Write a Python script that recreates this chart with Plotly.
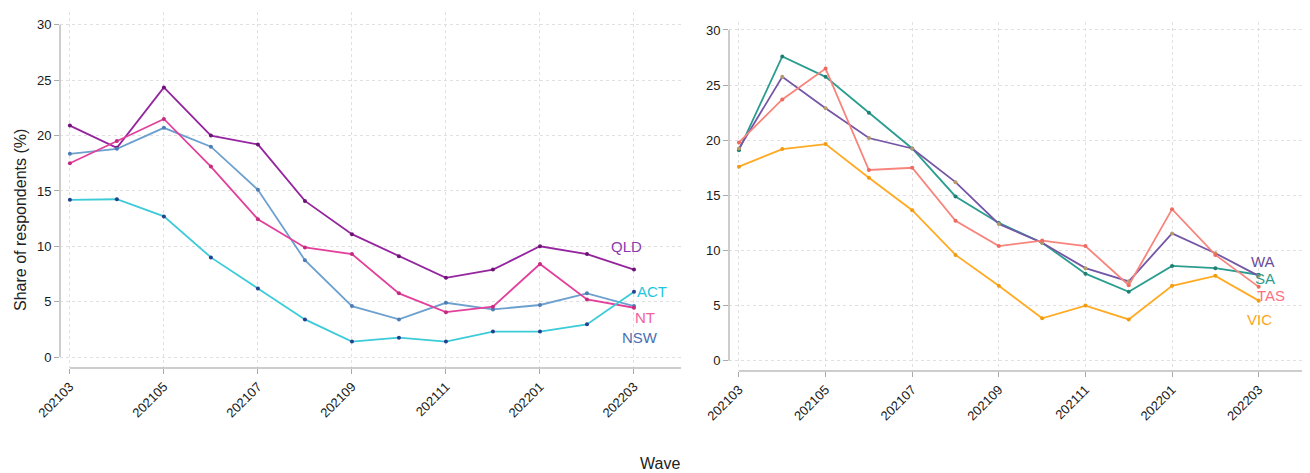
import plotly.graph_objects as go

waves = ["202103", "202104", "202105", "202106", "202107", "202108", "202109",
         "202110", "202111", "202112", "202201", "202202", "202203"]
tick_waves = waves[::2]
y_ticks = [0, 5, 10, 15, 20, 25, 30]

# Left panel
qld = [20.9, 18.9, 24.35, 20.0, 19.2, 14.1, 11.1, 9.1, 7.15, 7.9, 10.0, 9.3, 7.9]
nsw = [18.35, 18.8, 20.7, 19.0, 15.1, 8.75, 4.6, 3.4, 4.9, 4.3, 4.7, 5.75, 4.6]
nt = [17.5, 19.5, 21.5, 17.2, 12.45, 9.9, 9.3, 5.75, 4.05, 4.55, 8.4, 5.2, 4.45]
act = [14.2, 14.25, 12.7, 9.0, 6.2, 3.4, 1.4, 1.75, 1.4, 2.3, 2.3, 2.95, 5.9]

# Right panel
sa = [19.1, 27.6, 25.75, 22.5, 19.25, 14.9, 12.5, 10.7, 7.9, 6.25, 8.6, 8.4, 7.8]
wa = [19.25, 25.75, 22.9, 20.2, 19.25, 16.2, 12.4, 10.7, 8.4, 7.2, 11.55, 9.75, 7.7]
tas = [19.8, 23.7, 26.5, 17.3, 17.5, 12.7, 10.4, 10.9, 10.4, 6.85, 13.75, 9.6, 6.7]
vic = [17.6, 19.2, 19.65, 16.6, 13.65, 9.6, 6.8, 3.85, 5.0, 3.75, 6.8, 7.7, 5.45]

FONT = "Liberation Sans, Arial, sans-serif"

# page body has an 8px margin; figure fills the rest of the 1310x473 window
OX, OY = 8, 8
W, H = 1310 - OX, 473 - OY


def fx(px):
    return (px - OX) / W


def fy(py):
    return (H - (py - OY)) / H


# name, values, line color, marker color, label color, label dx, label dy
left_series = [
    ("QLD", qld, "#94259E", "#6E1279", "#8A3AAE", -0.15, 2.1),
    ("NSW", nsw, "#6CA0CF", "#4D7DB5", "#4A6FB0", 0.13, -2.8),
    ("NT", nt, "#E2409A", "#C42A80", "#F0609F", 0.23, -0.85),
    ("ACT", act, "#3CCBD8", "#233F8E", "#1FC6DC", 0.38, 0.05),
]
right_series = [
    ("SA", sa, "#2A9D8F", "#1F7F73", "#2A9D8F", 0.14, -0.3),
    ("WA", wa, "#7556A6", "#B59A6A", "#6B4C9A", 0.1, 1.3),
    ("TAS", tas, "#F8857D", "#F06A60", "#FF6F7F", 0.29, -0.75),
    ("VIC", vic, "#FFAA22", "#F29A10", "#FFA41A", 0.02, -1.7),
]

fig = go.Figure()
annotations = []
for (series, xa, ya) in [(left_series, "x", "y"), (right_series, "x2", "y2")]:
    for name, vals, lc, mc, tc, dx, dy in series:
        fig.add_trace(go.Scatter(
            x=waves, y=vals, mode="lines+markers", name=name,
            line=dict(color=lc, width=1.8),
            marker=dict(color=mc, size=4),
            xaxis=xa, yaxis=ya, showlegend=False,
        ))
        annotations.append(dict(
            x=len(waves) - 1 + dx, y=vals[-1] + dy, xref=xa, yref=ya,
            text=name, showarrow=False, font=dict(family=FONT, size=15, color=tc),
            xanchor="center", yanchor="middle",
        ))

annotations.append(dict(
    x=fx(20), y=fy(220), xref="paper", yref="paper", text="Share of respondents (%)",
    textangle=-90, showarrow=False, font=dict(family=FONT, size=16, color="#222"),
    xanchor="center", yanchor="middle"))
annotations.append(dict(
    x=fx(660), y=fy(463), xref="paper", yref="paper", text="Wave",
    showarrow=False, font=dict(family=FONT, size=16, color="#222"),
    xanchor="center", yanchor="middle"))

axis_common = dict(
    showgrid=True, gridcolor="#E0E0E0", griddash="dot", gridwidth=1,
    zeroline=False, showline=False, automargin=False,
    ticks="outside", ticklen=5, tickcolor="#AAAAAA", tickwidth=1,
    tickfont=dict(family=FONT, size=13, color="#1A1A1A"),
)

fig.update_layout(
    width=W, height=H, autosize=False,
    margin=dict(l=0, r=0, t=0, b=0),
    paper_bgcolor="white", plot_bgcolor="white",
    annotations=annotations,
    xaxis=dict(domain=[fx(60), fx(681)], type="category",
               tickvals=tick_waves, ticktext=tick_waves, tickangle=-45,
               range=[-0.21, len(waves)], anchor="y", **axis_common),
    yaxis=dict(domain=[fy(368), fy(12)],
               tickvals=y_ticks, range=[-0.99, 31.16], anchor="x", **axis_common),
    xaxis2=dict(domain=[fx(729), min(1.0, fx(1302))], type="category",
                tickvals=tick_waves, ticktext=tick_waves, tickangle=-45,
                range=[-0.23, len(waves)], anchor="y2", **axis_common),
    yaxis2=dict(domain=[fy(371), fy(21.7)],
                tickvals=y_ticks, range=[-0.93, 30.75], anchor="x2", **axis_common),
)

# capped axis lines (ggplot-style)
line_style = dict(color="#BDBDBD", width=1.5)
for xa, ya in [("x", "y"), ("x2", "y2")]:
    fig.add_shape(type="line", xref=xa + " domain", yref=ya, x0=0, x1=0,
                  y0=y_ticks[0], y1=y_ticks[-1], line=line_style, layer="above")
    fig.add_shape(type="line", xref=xa, yref=ya + " domain", x0=0, x1=len(waves),
                  y0=0, y1=0, line=line_style, layer="above")

fig.write_html("out.html")
